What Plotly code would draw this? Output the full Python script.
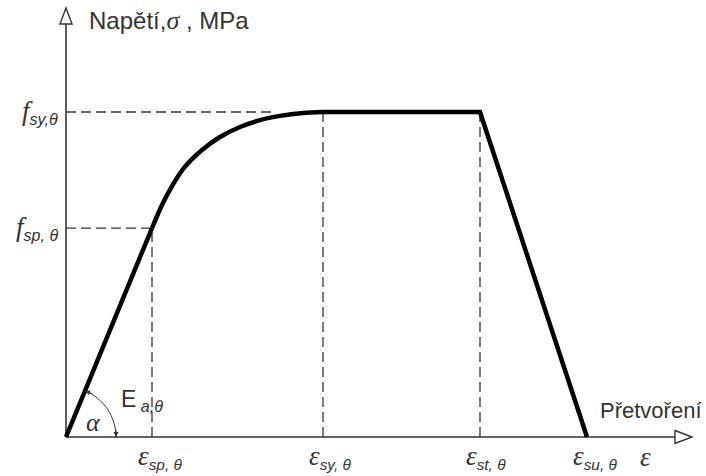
import plotly.graph_objects as go

# Schematic stress-strain relationship of steel at elevated temperature
# strain positions (arbitrary units) and stress levels (normalised to f_sy)
eps_sp, eps_sy, eps_st, eps_su = 0.86, 2.57, 4.14, 5.21
f_sp, f_sy = 0.643, 1.0

# elliptical transition between proportional limit and yield plateau
curve_eps = [0.86, 0.96, 1.06, 1.18, 1.36, 1.54, 1.74, 1.94, 2.14, 2.37, 2.57]
curve_sig = [0.643, 0.714, 0.772, 0.828, 0.883, 0.923, 0.954, 0.975, 0.988, 0.997, 1.0]

# plateau and descending branch
tail_eps = [2.57, 4.14, 5.21]
tail_sig = [1.0, 1.0, 0.0]

eps_labels = ["sp, θ", "sy, θ", "st, θ", "su, θ"]
eps_ticks = [eps_sp, eps_sy, eps_st, eps_su]

W, H = 706, 476
PX_X, PX_Y = 100.0, 325.0          # pixels per data unit
X0, Y0 = 66, 437                   # pixel position of the origin
x_range = [-X0 / PX_X, (W - X0) / PX_X]
y_range = [-(H - Y0) / PX_Y, Y0 / PX_Y]

def dx(px):
    return px / PX_X

def dy(px):
    return px / PX_Y

INK = "#333333"
SERIF = "Liberation Serif"
SANS = "Liberation Sans"

fig = go.Figure()

# dashed reference lines
dash = dict(color=INK, width=1.3, dash="10px,5px")
x_axis_end = dx(692 - X0) - dx(17)
y_axis_end = dy(Y0 - 8) - dy(16)
fig.add_trace(go.Scatter(x=[0, eps_sp, eps_sp], y=[f_sp, f_sp, 0], mode="lines", line=dash))
fig.add_trace(go.Scatter(x=[0, 2.08], y=[f_sy, f_sy], mode="lines", line=dash))
fig.add_trace(go.Scatter(x=[eps_sy, eps_sy], y=[f_sy, 0], mode="lines", line=dash))
fig.add_trace(go.Scatter(x=[eps_st, eps_st], y=[f_sy, 0], mode="lines", line=dash))

# axes
axis = dict(color=INK, width=1.6)
fig.add_trace(go.Scatter(x=[0, x_axis_end], y=[0, 0], mode="lines", line=axis))
fig.add_trace(go.Scatter(x=[0, 0], y=[0, y_axis_end], mode="lines", line=axis))

# stress-strain curve
curve = dict(color="black", width=4.5)
fig.add_trace(go.Scatter(x=[0, eps_sp], y=[0, f_sp], mode="lines", line=curve))
fig.add_trace(go.Scatter(x=curve_eps, y=curve_sig, mode="lines",
                         line=dict(color="black", width=4.5, shape="spline", smoothing=0.8)))
fig.add_trace(go.Scatter(x=tail_eps, y=tail_sig, mode="lines", line=curve))

# open arrowheads at the axis ends
xt = dx(692 - X0)
yt = dy(Y0 - 8)
shapes = [
    dict(type="path", xref="x", yref="y",
         path=f"M {xt - dx(17)},{dy(6.5)} L {xt},0 L {xt - dx(17)},{-dy(6.5)} Z",
         line=dict(color=INK, width=1.4), fillcolor="white"),
    dict(type="path", xref="x", yref="y",
         path=f"M {-dx(6)},{yt - dy(16)} L 0,{yt} L {dx(6)},{yt - dy(16)} Z",
         line=dict(color=INK, width=1.4), fillcolor="white"),
]

# angle arc between the elastic branch and the strain axis
p0 = (dx(19.05), dy(46.2))
p1 = (dx(37.76), dy(38.5))
p2 = (dx(50), dy(20.25))
p3 = (dx(50), 0)
shapes.append(dict(type="path", xref="x", yref="y",
                   path=f"M {p0[0]},{p0[1]} C {p1[0]},{p1[1]} {p2[0]},{p2[1]} {p3[0]},{p3[1]}",
                   line=dict(color=INK, width=1)))

annotations = []
arrow_common = dict(xref="x", yref="y", text="", showarrow=True, arrowhead=2,
                    arrowsize=1, arrowwidth=1, arrowcolor=INK, standoff=0)
annotations.append(dict(x=p3[0], y=p3[1], ax=0, ay=-9, **arrow_common))
annotations.append(dict(x=p0[0], y=p0[1], ax=8.3, ay=3.4, **arrow_common))

def label(x, y, text, size, xanchor="left", yanchor="middle", family=SANS):
    annotations.append(dict(x=x, y=y, xref="x", yref="y", text=text, showarrow=False,
                            xanchor=xanchor, yanchor=yanchor,
                            font=dict(family=family, size=size, color=INK)))

def sym(ch, size):
    return f'<span style="font-family:{SERIF};font-size:{size}px"><i>{ch}</i></span>'

# axis titles
label(dx(87 - X0), dy(Y0 - 20), "Napětí," + sym("σ", 26) + " , MPa", 24)
label(dx(598 - X0), dy(Y0 - 410), "Přetvoření", 22)
label(dx(638 - X0), dy(Y0 - 457), sym("ε", 27), 23)

# stress level labels
label(dx(60 - X0), f_sy, sym("f", 27) + "<sub><i>sy,θ</i></sub>", 23, xanchor="right")
label(dx(60 - X0), f_sp, sym("f", 27) + "<sub><i>sp, θ</i></sub>", 23, xanchor="right")

# strain level labels
for e, s in zip(eps_ticks, eps_labels):
    label(e - dx(16), dy(Y0 - 457), sym("ε", 27) + f"<sub><i>{s}</i></sub>", 22)

# modulus and angle
label(dx(119 - X0), dy(Y0 - 400), "E<sub><i> a,θ</i></sub>", 23)
label(dx(84 - X0), dy(Y0 - 422), sym("α", 26), 24)

fig.update_layout(
    width=W, height=H,
    margin=dict(l=0, r=0, t=0, b=0),
    paper_bgcolor="white", plot_bgcolor="white",
    showlegend=False,
    xaxis=dict(range=x_range, visible=False, fixedrange=True),
    yaxis=dict(range=y_range, visible=False, fixedrange=True),
    shapes=shapes,
    annotations=annotations,
)

fig.write_html("out.html")
